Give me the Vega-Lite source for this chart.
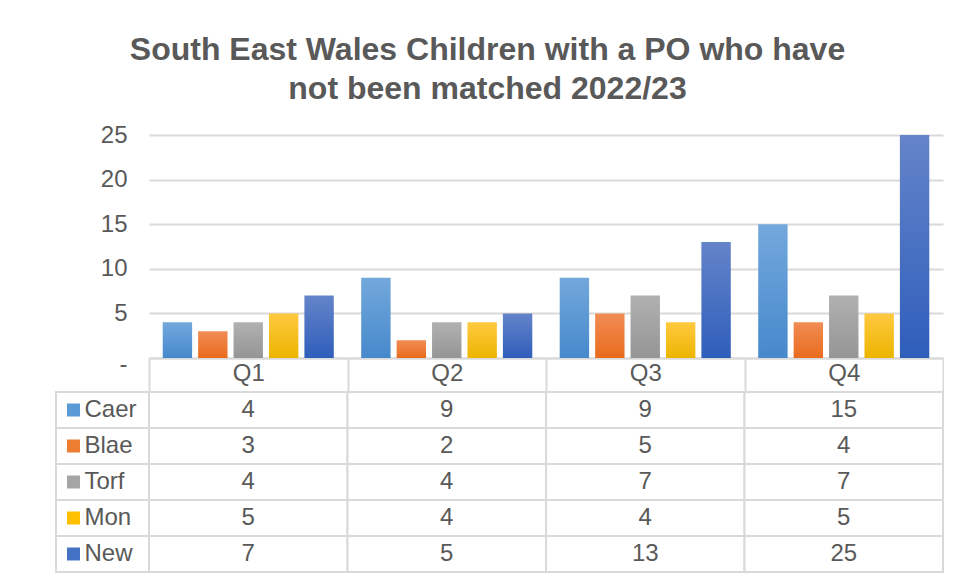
{
  "$schema": "https://vega.github.io/schema/vega-lite/v6.json",
  "background": "white",
  "padding": {"left": 55, "top": 34, "right": 0, "bottom": 0},
  "title": {
    "text": ["South East Wales Children with a PO who have", "not been matched 2022/23"],
    "fontSize": 32, "fontWeight": "bold", "color": "#595959", "font": "Liberation Sans",
    "lineHeight": 39, "anchor": "middle", "dx": -12, "offset": 17
  },
  "datasets": {
    "d": [
      {"q": "Q1", "s": "Caer", "v": 4}, {"q": "Q1", "s": "Blae", "v": 3}, {"q": "Q1", "s": "Torf", "v": 4}, {"q": "Q1", "s": "Mon", "v": 5}, {"q": "Q1", "s": "New", "v": 7},
      {"q": "Q2", "s": "Caer", "v": 9}, {"q": "Q2", "s": "Blae", "v": 2}, {"q": "Q2", "s": "Torf", "v": 4}, {"q": "Q2", "s": "Mon", "v": 4}, {"q": "Q2", "s": "New", "v": 5},
      {"q": "Q3", "s": "Caer", "v": 9}, {"q": "Q3", "s": "Blae", "v": 5}, {"q": "Q3", "s": "Torf", "v": 7}, {"q": "Q3", "s": "Mon", "v": 4}, {"q": "Q3", "s": "New", "v": 13},
      {"q": "Q4", "s": "Caer", "v": 15}, {"q": "Q4", "s": "Blae", "v": 4}, {"q": "Q4", "s": "Torf", "v": 7}, {"q": "Q4", "s": "Mon", "v": 5}, {"q": "Q4", "s": "New", "v": 25}
    ]
  },
  "columns": 2,
  "spacing": {"row": 34, "column": 0},
  "bounds": "flush",
  "resolve": {"scale": {"x": "independent", "y": "independent", "color": "independent", "xOffset": "independent"}},
  "concat": [
    {
      "width": 93, "height": 223,
      "data": {"values": [{"t": ""}]},
      "mark": {"type": "text"},
      "encoding": {"text": {"field": "t", "type": "nominal"}}
    },
    {
      "width": 794, "height": 223,
      "data": {"name": "d"},
      "encoding": {
        "x": {
          "field": "q", "type": "nominal", "sort": ["Q1", "Q2", "Q3", "Q4"],
          "scale": {"paddingInner": 0, "paddingOuter": 0},
          "axis": {
            "title": null, "labelAngle": 0, "labelFontSize": 24, "labelColor": "#595959",
            "domainColor": "#d9d9d9", "domainWidth": 2,
            "tickBand": "extent", "tickExtra": true, "tickColor": "#d9d9d9", "tickWidth": 2, "tickSize": 34,
            "labelPadding": -12, "labelBaseline": "alphabetic"
          }
        },
        "xOffset": {
          "field": "s", "type": "nominal",
          "scale": {"domain": ["Caer", "Blae", "Torf", "Mon", "New"], "paddingInner": 0.17, "paddingOuter": 0.387}
        },
        "y": {
          "field": "v", "type": "quantitative",
          "scale": {"domain": [0, 25], "nice": false},
          "axis": {
            "title": null, "values": [0, 5, 10, 15, 20, 25],
            "labelExpr": "datum.value === 0 ? '-' : datum.label",
            "labelOffset": {"condition": {"test": "datum.value === 0", "value": 6}, "value": 0},
            "ticks": false, "tickSize": 0, "domain": false, "labelPadding": 22,
            "labelFontSize": 24, "labelColor": "#595959", "gridColor": "#d9d9d9", "gridWidth": 2
          }
        }
      },
      "layer": [
        {
          "transform": [{"filter": "datum.s === 'Caer'"}],
          "mark": {"type": "bar", "color": {"gradient": "linear", "x1": 0, "y1": 0, "x2": 0, "y2": 1, "stops": [{"offset": 0, "color": "#73a8dc"}, {"offset": 1, "color": "#4689cc"}]}}
        },
        {
          "transform": [{"filter": "datum.s === 'Blae'"}],
          "mark": {"type": "bar", "color": {"gradient": "linear", "x1": 0, "y1": 0, "x2": 0, "y2": 1, "stops": [{"offset": 0, "color": "#f18d55"}, {"offset": 1, "color": "#e96b1d"}]}}
        },
        {
          "transform": [{"filter": "datum.s === 'Torf'"}],
          "mark": {"type": "bar", "color": {"gradient": "linear", "x1": 0, "y1": 0, "x2": 0, "y2": 1, "stops": [{"offset": 0, "color": "#b1b1b1"}, {"offset": 1, "color": "#959595"}]}}
        },
        {
          "transform": [{"filter": "datum.s === 'Mon'"}],
          "mark": {"type": "bar", "color": {"gradient": "linear", "x1": 0, "y1": 0, "x2": 0, "y2": 1, "stops": [{"offset": 0, "color": "#ffc940"}, {"offset": 1, "color": "#ecb500"}]}}
        },
        {
          "transform": [{"filter": "datum.s === 'New'"}],
          "mark": {"type": "bar", "color": {"gradient": "linear", "x1": 0, "y1": 0, "x2": 0, "y2": 1, "stops": [{"offset": 0, "color": "#6584c9"}, {"offset": 1, "color": "#2e5ebb"}]}}
        }
      ]
    },
    {
      "width": 93, "height": 180,
      "data": {"name": "d"},
      "transform": [{"filter": "datum.q === 'Q1'"}],
      "encoding": {
        "y": {"field": "s", "type": "nominal", "sort": ["Caer", "Blae", "Torf", "Mon", "New"], "scale": {"paddingInner": 0, "paddingOuter": 0}, "axis": null}
      },
      "layer": [
        {"mark": {"type": "rect", "fill": "white", "stroke": "#d9d9d9", "strokeWidth": 2}},
        {
          "mark": {"type": "point", "shape": "square", "filled": true, "size": 169, "opacity": 1},
          "encoding": {
            "x": {"datum": "sym", "type": "nominal", "scale": {"type": "point", "domain": ["sym", "name"], "range": [17.5, 28.5], "padding": 0}, "axis": null},
            "color": {
              "field": "s", "type": "nominal", "legend": null,
              "scale": {
                "domain": ["Caer", "Blae", "Torf", "Mon", "New"],
                "range": ["#5b9bd5", "#ed7d31", "#a5a5a5", "#ffc000", "#4472c4"]
              }
            }
          }
        },
        {
          "mark": {"type": "text", "align": "left", "baseline": "middle", "fontSize": 24, "color": "#595959"},
          "encoding": {
            "x": {"datum": "name", "type": "nominal"},
            "text": {"field": "s", "type": "nominal"}
          }
        }
      ]
    },
    {
      "width": 794, "height": 180,
      "data": {"name": "d"},
      "encoding": {
        "x": {"field": "q", "type": "nominal", "sort": ["Q1", "Q2", "Q3", "Q4"], "scale": {"paddingInner": 0, "paddingOuter": 0}, "axis": null},
        "y": {"field": "s", "type": "nominal", "sort": ["Caer", "Blae", "Torf", "Mon", "New"], "scale": {"paddingInner": 0, "paddingOuter": 0}, "axis": null}
      },
      "layer": [
        {"mark": {"type": "rect", "fill": "white", "stroke": "#d9d9d9", "strokeWidth": 2}},
        {
          "mark": {"type": "text", "fontSize": 24, "color": "#595959", "baseline": "middle"},
          "encoding": {"text": {"field": "v", "type": "quantitative"}}
        }
      ]
    }
  ],
  "config": {
    "view": {"stroke": null},
    "font": "Liberation Sans"
  }
}
